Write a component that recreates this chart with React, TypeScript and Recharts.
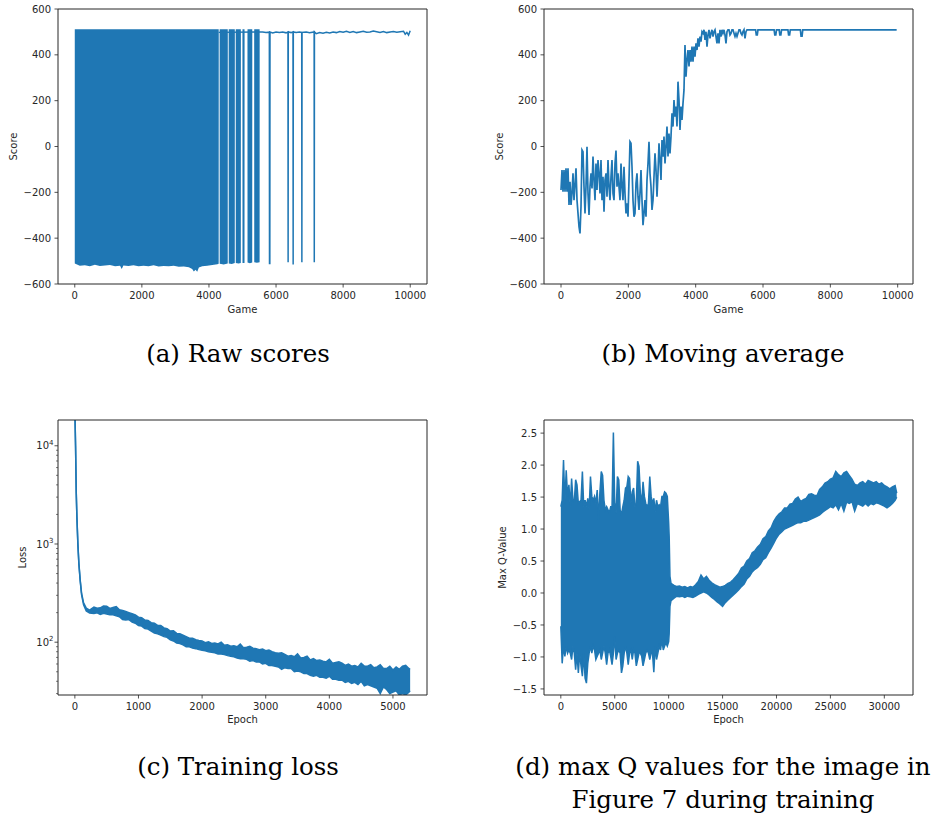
import React from "react";
import { ComposedChart, Area, Line, XAxis, YAxis, ReferenceLine } from "recharts";

const BLUE = "#1f77b4";
const SPINE = "#262626";
const INK = "#262626";
const SANS = "DejaVu Sans";
const SERIF = "DejaVu Serif";

// ---------- (a) raw scores ----------
const gameTicks = [0, 2000, 4000, 6000, 8000, 10000];
const scoreTicks = [-600, -400, -200, 0, 200, 400, 600];

// dense part: envelope of the score trace (low / high per game)
const rawBandGames = [
  0, 150, 300, 450, 600, 750, 900, 1050, 1200, 1350,
  1400, 1450, 1600, 1750, 1900, 2050, 2200, 2350, 2500, 2650,
  2800, 2950, 3100, 3250, 3400, 3500, 3550, 3600, 3650, 3700,
  3800, 3950, 4100, 4250, 4290, 4292, 4318, 4320, 4440, 4560,
  4562, 4588, 4590, 4680, 4770, 4772, 4798, 4800, 4880, 4950,
  4952, 4998, 5000, 5060, 5062, 5148, 5150, 5220, 5290, 5292,
  5348, 5350, 5430, 5510, 5512,
];
const rawBandLow = [
  -510, -520, -518, -522, -516, -521, -519, -517, -522, -520,
  -535, -519, -521, -518, -523, -520, -522, -518, -524, -521,
  -523, -520, -525, -524, -527, -535, -545, -538, -547, -528,
  -522, -520, -517, -514, -512, 498, 498, -512, -515, -510,
  498, 498, -510, -513, -508, 498, 498, -508, -511, -508,
  498, 498, -508, -508, 498, 498, -506, -509, -506, 498,
  498, -505, -507, -505, 498,
];
const rawBandHigh = [
  512, 512, 512, 512, 512, 512, 512, 512, 512, 512,
  512, 512, 512, 512, 512, 512, 512, 512, 512, 512,
  512, 512, 512, 512, 512, 512, 512, 512, 512, 512,
  512, 512, 512, 512, 512, 498, 498, 512, 512, 512,
  498, 498, 512, 512, 512, 498, 498, 512, 512, 512,
  498, 498, 512, 512, 498, 498, 512, 512, 512, 498,
  498, 512, 512, 512, 498,
];
// sparse part: mostly winning games with a few losses
const rawTailGames = [
  4290, 5600, 5700, 5800, 5805, 5815, 5820, 5900, 6000, 6100,
  6200, 6300, 6355, 6360, 6365, 6450, 6505, 6510, 6515, 6600,
  6700, 6765, 6770, 6775, 6900, 7000, 7135, 7140, 7145, 7200,
  7300, 7400, 7500, 7600, 7700, 7800, 7900, 8000, 8100, 8200,
  8300, 8400, 8500, 8600, 8700, 8800, 8900, 9000, 9100, 9200,
  9300, 9400, 9500, 9600, 9700, 9800, 9850, 9900, 9950, 9999,
];
const rawTailScores = [
  498, 500, 497, 499, -510, -510, 499, 495, 500, 497,
  500, 496, 500, -505, 500, 497, 500, -515, 500, 497,
  500, 498, -505, 498, 500, 496, 500, -505, 500, 492,
  497, 494, 498, 495, 500, 497, 502, 499, 503, 498,
  502, 497, 500, 503, 499, 500, 504, 501, 498, 502,
  497, 500, 502, 499, 501, 503, 490, 498, 486, 505,
];

// ---------- (b) moving average ----------
const MA_STEP = 29.7; // games between stored samples
const movingAvg = [
  -190, -103, -197, -103, -197, -95, -197, -95, -255, -154,
  -255, -205, -117, -234, -168, -95, -234, -292, -350, -379,
  -263, -15, -23, -175, -292, -175, -1, -205, -299, -175,
  -117, -183, -44, -146, -234, -74, -190, -59, -117, -205,
  -59, -234, -132, -285, -146, -117, -219, -59, -175, -234,
  -132, -59, -205, -234, -74, -18, -175, -117, -175, -234,
  -74, -175, -234, -88, -205, -292, -248, -306, -146, 21,
  14, -88, -234, -306, -292, -161, -117, -219, -277, -205,
  -103, -234, -343, -292, -234, -306, -146, -74, 21, -117,
  -175, -277, -234, -132, -30, -103, -219, -117, 14, -59,
  -146, 28, -44, 43, -74, -1, 87, -44, 57, -30,
  43, 145, 87, 203, 130, 174, 87, 283, 203, 72,
  174, 116, 188, 247, 443, 305, 378, 421, 349, 421,
  370, 436, 370, 436, 392, 450, 421, 472, 436, 480,
  458, 501, 494, 509, 465, 501, 436, 487, 509, 472,
  494, 509, 480, 501, 509, 480, 450, 494, 450, 509,
  480, 509, 494, 509, 487, 450, 501, 509, 509, 487,
  494, 509, 509, 494, 480, 494, 480, 494, 509, 509,
  494, 487, 501, 509, 472, 501, 509,
];
const maTailGames = [
  5540, 5780, 5800, 5830, 5850, 6330, 6350, 6380, 6400, 6480,
  6500, 6530, 6550, 6740, 6760, 6790, 6810, 7110, 7130, 7160,
  7180, 9970,
];
const maTailScores = [
  509, 509, 487, 487, 509, 509, 487, 487, 509, 509,
  487, 487, 509, 509, 487, 487, 509, 509, 482, 482,
  509, 509,
];

// ---------- (c) training loss ----------
const lossEpochTicks = [0, 1000, 2000, 3000, 4000, 5000];
const lossTicks = [
  30, 40, 50, 60, 70, 80, 90,
  100, 200, 300, 400, 500, 600, 700, 800, 900,
  1000, 2000, 3000, 4000, 5000, 6000, 7000, 8000, 9000,
  10000,
];
const lossEpochs = [
  0, 5, 11, 22, 32, 47, 63, 84, 105, 137, 179, 232,
  300, 350, 400, 450, 500, 550, 600, 650, 700, 750,
  800, 850, 900, 950, 1000, 1050, 1100, 1150, 1200, 1250,
  1300, 1350, 1400, 1450, 1500, 1550, 1600, 1650, 1700, 1750,
  1800, 1850, 1900, 1950, 2000, 2050, 2100, 2150, 2200, 2250,
  2300, 2350, 2400, 2450, 2500, 2550, 2600, 2650, 2700, 2750,
  2800, 2850, 2900, 2950, 3000, 3050, 3100, 3150, 3200, 3250,
  3300, 3350, 3400, 3450, 3500, 3550, 3600, 3650, 3700, 3750,
  3800, 3850, 3900, 3950, 4000, 4050, 4100, 4150, 4200, 4250,
  4300, 4350, 4400, 4450, 4500, 4550, 4600, 4650, 4700, 4750,
  4800, 4850, 4900, 4950, 5000, 5050, 5100, 5150, 5200, 5250,
  5270,
];
const lossHigh = [
  25000, 16000, 10000, 3300, 1900, 1020, 640, 430, 318, 252, 222, 212,
  228, 222, 224, 234, 232, 221, 226, 230, 214, 210,
  205, 200, 195, 190, 180, 178, 168, 166, 158, 156,
  148, 148, 140, 137, 130, 131, 123, 122, 118, 114,
  110, 110, 106, 104, 103, 99, 101, 97, 98, 96,
  100, 93, 94, 91, 92, 90, 96, 88, 89, 91,
  87, 86, 84, 85, 82, 83, 80, 78, 77, 78,
  75, 72, 73, 71, 76, 69, 70, 72, 66, 68,
  65, 66, 64, 63, 67, 61, 62, 63, 61, 58,
  60, 57, 58, 56, 61, 57, 57, 59, 55, 56,
  59, 54, 54, 57, 52, 56, 53, 57, 58, 54,
  53,
];
const lossLow = [
  25000, 16000, 10000, 3280, 1880, 1000, 625, 420, 305, 240, 208, 198,
  196, 199, 192, 197, 194, 190, 190, 186, 182, 170,
  168, 170, 160, 156, 148, 146, 138, 136, 130, 124,
  122, 118, 114, 112, 106, 103, 98, 97, 94, 90,
  90, 87, 86, 84, 83, 82, 80, 79, 78, 76,
  76, 75, 73, 72, 71, 69, 68, 68, 67, 64,
  65, 63, 63, 60, 61, 58, 58, 57, 56, 53,
  55, 54, 54, 50, 51, 50, 48, 48, 46, 45,
  46, 44, 44, 43, 45, 42, 42, 41, 41, 39,
  40, 38, 39, 37, 40, 36, 37, 36, 35, 34,
  30, 35, 33, 30, 31, 32, 29, 30, 29, 31,
  32,
];

// ---------- (d) max Q values ----------
const qEpochTicks = [0, 5000, 10000, 15000, 20000, 25000, 30000];
const qValueTicks = [-1.5, -1.0, -0.5, 0.0, 0.5, 1.0, 1.5, 2.0, 2.5];
const Q_STEP = 125; // epochs between stored samples in the noisy phase
const qHigh = [
  1.35, 1.45, 2.08, 1.40, 1.92, 1.51, 1.69, 1.35, 1.79, 1.45,
  1.43, 1.77, 1.69, 1.40, 1.43, 1.45, 1.90, 1.35, 1.45, 1.35,
  1.48, 1.30, 1.82, 1.51, 1.45, 1.51, 1.40, 1.61, 1.14, 1.58,
  1.90, 1.84, 1.45, 1.30, 1.35, 1.30, 1.25, 1.35, 1.35, 2.51,
  1.40, 1.25, 1.82, 1.77, 1.30, 1.22, 1.35, 1.45, 1.64, 1.66,
  1.82, 1.79, 1.40, 1.58, 1.64, 1.35, 1.40, 2.06, 1.98, 1.56,
  1.40, 1.74, 1.51, 1.40, 1.35, 1.40, 1.82, 1.51, 1.40, 1.48,
  1.27, 1.45, 1.35, 1.38, 1.35, 1.51, 1.51, 1.58, 1.56, 1.51,
  1.10,
];
const qLow = [
  -0.52, -1.10, -0.83, -0.99, -0.83, -0.94, -0.89, -0.94, -1.04, -0.83,
  -0.94, -1.20, -0.94, -1.25, -0.94, -1.14, -1.30, -0.94, -1.33, -1.41,
  -1.10, -0.94, -0.83, -0.94, -0.83, -0.89, -1.04, -0.99, -0.94, -0.89,
  -1.04, -0.94, -0.83, -0.94, -1.12, -0.94, -0.89, -0.99, -1.12, -0.94,
  -0.68, -1.04, -0.94, -0.89, -0.94, -1.25, -1.14, -0.94, -0.83, -0.94,
  -1.12, -0.94, -0.89, -1.04, -0.89, -0.94, -1.14, -1.04, -0.94, -0.94,
  -0.99, -1.14, -1.04, -0.94, -0.89, -0.94, -1.04, -0.94, -0.94, -1.24,
  -0.83, -1.04, -0.94, -0.83, -0.89, -0.73, -0.89, -0.83, -0.78, -0.83,
  -0.76,
];
const qTailEpochs = [
  10050, 10120, 10220,
  10500, 10750, 11000, 11250, 11500, 11750, 12000, 12250, 12500, 12750,
  13000, 13250, 13500, 13750, 14000, 14250, 14500, 14750, 15000, 15250,
  15500, 15750, 16000, 16250, 16500, 16750, 17000, 17250, 17500, 17750,
  18000, 18250, 18500, 18750, 19000, 19250, 19500, 19750, 20000, 20250,
  20500, 20750, 21000, 21250, 21500, 21750, 22000, 22250, 22500, 22750,
  23000, 23250, 23500, 23750, 24000, 24250, 24500, 24750, 25000, 25250,
  25500, 25750, 26000, 26250, 26500, 26750, 27000, 27250, 27500, 27750,
  28000, 28250, 28500, 28750, 29000, 29250, 29500, 29750, 30000, 30250,
  30500, 30750, 31000, 31150,
];
const qTailHigh = [
  0.88, 0.26, 0.15,
  0.12, 0.10, 0.11, 0.09, 0.10, 0.08, 0.10, 0.09, 0.13, 0.18,
  0.28, 0.22, 0.26, 0.20, 0.16, 0.13, 0.11, 0.09, 0.10, 0.12,
  0.15, 0.17, 0.21, 0.26, 0.31, 0.39, 0.42, 0.50, 0.54, 0.63,
  0.66, 0.72, 0.76, 0.85, 0.88, 0.97, 1.02, 1.12, 1.19, 1.24,
  1.27, 1.33, 1.33, 1.39, 1.40, 1.47, 1.50, 1.43, 1.46, 1.48,
  1.54, 1.55, 1.53, 1.52, 1.62, 1.66, 1.72, 1.74, 1.78, 1.80,
  1.90, 1.85, 1.82, 1.88, 1.90, 1.84, 1.78, 1.70, 1.68, 1.72,
  1.74, 1.70, 1.76, 1.74, 1.72, 1.74, 1.70, 1.72, 1.68, 1.66,
  1.63, 1.66, 1.68, 1.56,
];
const qTailLow = [
  -0.63, -0.21, -0.12,
  -0.08, -0.05, -0.06, -0.05, -0.07, -0.05, -0.06, -0.07, -0.05, -0.02,
  0.00, 0.02, 0.00, -0.03, -0.07, -0.10, -0.14, -0.17, -0.21, -0.15,
  -0.11, -0.07, -0.03, 0.01, 0.05, 0.10, 0.14, 0.22, 0.26, 0.33,
  0.37, 0.40, 0.45, 0.52, 0.55, 0.63, 0.70, 0.78, 0.86, 0.92,
  0.96, 1.00, 1.02, 1.04, 1.06, 1.08, 1.10, 1.10, 1.12, 1.12,
  1.14, 1.16, 1.18, 1.20, 1.22, 1.26, 1.29, 1.32, 1.35, 1.33,
  1.38, 1.30, 1.40, 1.28, 1.42, 1.40, 1.43, 1.28, 1.40, 1.38,
  1.36, 1.40, 1.36, 1.40, 1.38, 1.41, 1.40, 1.38, 1.36, 1.33,
  1.36, 1.40, 1.45, 1.50,
];

// ---------- data tables for recharts ----------
const band = (xs: number[], lo: number[], hi: number[]) =>
  xs.map((x, i) => ({ x, lo: lo[i], hi: hi[i] }));
const pts = (xs: number[], ys: number[]) => xs.map((x, i) => ({ x, y: ys[i] }));

const rawBand = band(rawBandGames, rawBandLow, rawBandHigh);
const rawTail = pts(rawTailGames, rawTailScores);
const maLine = [
  ...movingAvg.map((y, i) => ({ x: i * MA_STEP, y })),
  ...pts(maTailGames, maTailScores),
];
const lossBand = band(lossEpochs, lossLow, lossHigh);
const qBand = [
  ...qHigh.map((hi, i) => ({ x: i * Q_STEP, lo: qLow[i], hi })),
  ...band(qTailEpochs, qTailLow, qTailHigh),
];

const rng = (d: any) => [d.lo, d.hi];

// ---------- ticks ----------
const fmtInt = (v: number) => (v < 0 ? "\u2212" + Math.abs(v) : String(v));
const fmtOne = (v: number) => (v < 0 ? "\u2212" + Math.abs(v).toFixed(1) : v.toFixed(1));

const xTick = (fmt: (v: number) => string) => (p: any) => (
  <g>
    <line x1={p.x} x2={p.x} y1={p.y} y2={p.y + 3.5} stroke={SPINE} strokeWidth={0.8} />
    <text x={p.x} y={p.y + 14.5} textAnchor="middle" fontFamily={SANS} fontSize={10} fill={INK}>
      {fmt(p.payload.value)}
    </text>
  </g>
);

const yTick = (fmt: (v: number) => string) => (p: any) => (
  <g>
    <line x1={p.x - 3.5} x2={p.x} y1={p.y} y2={p.y} stroke={SPINE} strokeWidth={0.8} />
    <text x={p.x - 7} y={p.y + 3.6} textAnchor="end" fontFamily={SANS} fontSize={10} fill={INK}>
      {fmt(p.payload.value)}
    </text>
  </g>
);

const logTick = (p: any) => {
  const v = p.payload.value;
  const e = Math.round(Math.log10(v));
  if (Math.abs(Math.log10(v) - e) > 1e-6) {
    return <line x1={p.x - 2} x2={p.x} y1={p.y} y2={p.y} stroke={SPINE} strokeWidth={0.6} />;
  }
  return (
    <g>
      <line x1={p.x - 3.5} x2={p.x} y1={p.y} y2={p.y} stroke={SPINE} strokeWidth={0.8} />
      <text x={p.x - 4.5} y={p.y + 3.6} textAnchor="end" fontFamily={SANS} fontSize={10} fill={INK}>
        10
        <tspan dy={-4.5} fontSize={7}>
          {e}
        </tspan>
      </text>
    </g>
  );
};

const axisCommon = {
  type: "number" as const,
  allowDataOverflow: true,
  interval: 0 as const,
  tickSize: 0,
  tickMargin: 0,
  tickLine: false,
  axisLine: { stroke: SPINE, strokeWidth: 1 },
};

const areaStyle = {
  type: "linear" as const,
  stroke: BLUE,
  strokeWidth: 1.5,
  fill: BLUE,
  fillOpacity: 1,
  dot: false,
  activeDot: false,
  isAnimationActive: false,
};

const lineStyle = {
  type: "linear" as const,
  stroke: BLUE,
  strokeWidth: 1.5,
  dot: false,
  activeDot: false,
  isAnimationActive: false,
};

function Txt({ x, y, children, rotate, size = 10, family = SANS }: any) {
  return (
    <text
      x={x}
      y={y}
      textAnchor="middle"
      fontFamily={family}
      fontSize={size}
      fill={family === SERIF ? "#000" : INK}
      dominantBaseline={rotate ? "central" : undefined}
      transform={rotate ? `rotate(-90 ${x} ${y})` : undefined}
    >
      {children}
    </text>
  );
}

export default function App() {
  return (
    <div style={{ position: "absolute", left: 0, top: 0, width: 942, height: 819, background: "#fff" }}>
      {/* (a) Raw scores */}
      <div style={{ position: "absolute", left: 0, top: 0 }}>
        <ComposedChart width={440} height={320} margin={{ top: 9, right: 13, bottom: 0, left: 0 }}>
          <XAxis {...axisCommon} dataKey="x" height={36} domain={[-500, 10500]} ticks={gameTicks} tick={xTick(fmtInt)} />
          <YAxis {...axisCommon} width={58} domain={[-600, 600]} ticks={scoreTicks} tick={yTick(fmtInt)} />
          <Area {...areaStyle} stroke="none" data={rawBand} dataKey={rng} />
          <Line {...lineStyle} data={rawTail} dataKey="y" />
          <ReferenceLine y={600} stroke={SPINE} strokeWidth={1} />
          <ReferenceLine x={10500} stroke={SPINE} strokeWidth={1} />
        </ComposedChart>
      </div>

      {/* (b) Moving average */}
      <div style={{ position: "absolute", left: 470, top: 0 }}>
        <ComposedChart width={472} height={320} margin={{ top: 9, right: 29, bottom: 0, left: 0 }}>
          <XAxis {...axisCommon} dataKey="x" height={36} domain={[-505, 10455]} ticks={gameTicks} tick={xTick(fmtInt)} />
          <YAxis {...axisCommon} width={74} domain={[-600, 600]} ticks={scoreTicks} tick={yTick(fmtInt)} />
          <Line {...lineStyle} strokeWidth={1.7} data={maLine} dataKey="y" />
          <ReferenceLine y={600} stroke={SPINE} strokeWidth={1} />
          <ReferenceLine x={10455} stroke={SPINE} strokeWidth={1} />
        </ComposedChart>
      </div>

      {/* (c) Training loss */}
      <div style={{ position: "absolute", left: 0, top: 410 }}>
        <ComposedChart width={440} height={330} margin={{ top: 10, right: 13, bottom: 0, left: 0 }}>
          <XAxis {...axisCommon} dataKey="x" height={45} domain={[-265, 5535]} ticks={lossEpochTicks} tick={xTick(fmtInt)} />
          <YAxis {...axisCommon} width={58} scale="log" domain={[29, 18300]} ticks={lossTicks} tick={logTick} />
          <Area {...areaStyle} data={lossBand} dataKey={rng} />
          <ReferenceLine y={18300} stroke={SPINE} strokeWidth={1} />
          <ReferenceLine x={5535} stroke={SPINE} strokeWidth={1} />
        </ComposedChart>
      </div>

      {/* (d) Max Q values */}
      <div style={{ position: "absolute", left: 470, top: 410 }}>
        <ComposedChart width={472} height={330} margin={{ top: 10, right: 29, bottom: 0, left: 0 }}>
          <XAxis {...axisCommon} dataKey="x" height={45} domain={[-1560, 32660]} ticks={qEpochTicks} tick={xTick(fmtInt)} />
          <YAxis {...axisCommon} width={74} domain={[-1.595, 2.705]} ticks={qValueTicks} tick={yTick(fmtOne)} />
          <Area {...areaStyle} data={qBand} dataKey={rng} />
          <ReferenceLine y={2.705} stroke={SPINE} strokeWidth={1} />
          <ReferenceLine x={32660} stroke={SPINE} strokeWidth={1} />
        </ComposedChart>
      </div>

      {/* titles and captions */}
      <svg width={942} height={819} style={{ position: "absolute", left: 0, top: 0, pointerEvents: "none" }}>
        <Txt x={13.3} y={146.5} rotate>Score</Txt>
        <Txt x={242.5} y={313}>Game</Txt>
        <Txt x={499.3} y={146.5} rotate>Score</Txt>
        <Txt x={728.5} y={313}>Game</Txt>
        <Txt x={22.5} y={557.5} rotate>Loss</Txt>
        <Txt x={242.5} y={723}>Epoch</Txt>
        <Txt x={502.3} y={557.5} rotate>Max Q-Value</Txt>
        <Txt x={728.5} y={723}>Epoch</Txt>

        <Txt x={238} y={362} size={24.5} family={SERIF}>(a) Raw scores</Txt>
        <Txt x={723} y={362} size={24.5} family={SERIF}>(b) Moving average</Txt>
        <Txt x={238} y={775} size={24.5} family={SERIF}>(c) Training loss</Txt>
        <Txt x={723} y={775} size={24.5} family={SERIF}>(d) max Q values for the image in</Txt>
        <Txt x={723} y={808} size={24.5} family={SERIF}>Figure 7 during training</Txt>
      </svg>
    </div>
  );
}
